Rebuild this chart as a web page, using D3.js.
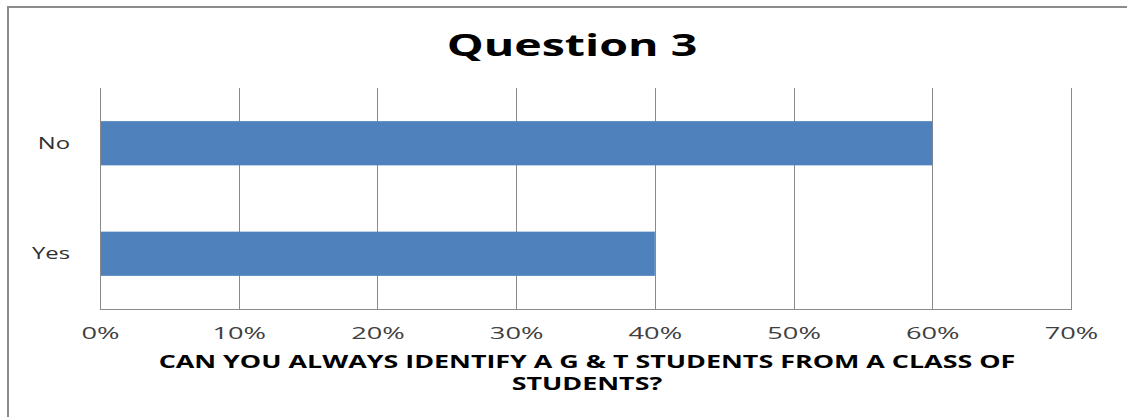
<!DOCTYPE html>
<html>
<head>
<meta charset="utf-8">
<script src="https://cdn.jsdelivr.net/npm/d3@7"></script>
<style>
  html, body { margin: 0; padding: 0; background: #fff; }
  svg { display: block; font-family: "Open Sans", "DejaVu Sans", sans-serif; }
</style>
</head>
<body>
<svg id="chart" width="1127" height="417"></svg>
<script>
// Survey answers for question 3 (share of respondents)
const categories = ["No", "Yes"];
const shares = [0.60, 0.40];
const tickValues = [0, 0.1, 0.2, 0.3, 0.4, 0.5, 0.6, 0.7];
const chartTitle = "Question 3";
const axisTitleLines = ["CAN YOU ALWAYS IDENTIFY A G & T STUDENTS FROM A CLASS OF", "STUDENTS?"];

const svg = d3.select("#chart");
const W = 1127, H = 417;
const plot = { left: 100, right: 1071, top: 88, bottom: 309 };

// Wide, stretched lettering: widen each text to a share of its natural width
function stretch(sel, factor) {
  sel.each(function() {
    const w = this.getComputedTextLength();
    d3.select(this).attr("textLength", w * factor).attr("lengthAdjust", "spacingAndGlyphs");
  });
}

// Outer chart frame (continues past the right and bottom edges)
svg.append("rect")
  .attr("x", 8).attr("y", 7)
  .attr("width", W + 20).attr("height", H + 20)
  .attr("fill", "#fff")
  .attr("stroke", "#8c8c8c").attr("stroke-width", 2);

const x = d3.scaleLinear().domain([0, 0.7]).range([plot.left, plot.right]);
const y = d3.scaleBand().domain(categories).range([plot.top, plot.bottom]).paddingInner(0.6).paddingOuter(0.3);

// Vertical gridlines
svg.append("g")
  .selectAll("line")
  .data(tickValues)
  .join("line")
  .attr("x1", d => Math.round(x(d)) + 0.5).attr("x2", d => Math.round(x(d)) + 0.5)
  .attr("y1", plot.top).attr("y2", plot.bottom)
  .attr("stroke", "#8a8a8a").attr("stroke-width", 1);

// Bottom axis line
svg.append("line")
  .attr("x1", plot.left).attr("x2", plot.right + 1)
  .attr("y1", plot.bottom + 0.5).attr("y2", plot.bottom + 0.5)
  .attr("stroke", "#8a8a8a").attr("stroke-width", 1);

// Bars
svg.append("g")
  .selectAll("rect")
  .data(categories)
  .join("rect")
  .attr("x", x(0) + 1)
  .attr("y", d => y(d))
  .attr("width", (d, i) => x(shares[i]) - x(0) - 1)
  .attr("height", y.bandwidth())
  .attr("fill", "#4f81bd");

// X axis tick labels
const xAxis = d3.axisBottom(x)
  .tickValues(tickValues)
  .tickFormat(d3.format(".0%"))
  .tickSize(0)
  .tickPadding(18);
const gx = svg.append("g").attr("transform", `translate(0,${plot.bottom})`).call(xAxis);
gx.select(".domain").remove();
gx.selectAll("text")
  .attr("font-family", "Open Sans, sans-serif")
  .attr("font-size", 17)
  .attr("fill", "#404040")
  .call(stretch, 1.6);

// Y axis category labels
const yAxis = d3.axisLeft(y).tickSize(0).tickPadding(30);
const gy = svg.append("g").attr("transform", `translate(${plot.left},0)`).call(yAxis);
gy.select(".domain").remove();
gy.selectAll("text")
  .attr("font-family", "Open Sans, sans-serif")
  .attr("font-size", 17)
  .attr("fill", "#303030")
  .call(stretch, 1.4);

// Left axis line
svg.append("line")
  .attr("x1", plot.left + 0.5).attr("x2", plot.left + 0.5)
  .attr("y1", plot.top).attr("y2", plot.bottom)
  .attr("stroke", "#8a8a8a").attr("stroke-width", 1);

// Title
svg.append("text")
  .attr("x", 572).attr("y", 56)
  .attr("text-anchor", "middle")
  .attr("font-family", "Open Sans, sans-serif")
  .attr("font-weight", "bold")
  .attr("font-size", 30)
  .attr("fill", "#000")
  .text(chartTitle)
  .call(stretch, 1.55);

// Axis title
svg.append("g").selectAll("text")
  .data(axisTitleLines)
  .join("text")
  .attr("x", 587)
  .attr("y", (d, i) => 368 + i * 22)
  .attr("text-anchor", "middle")
  .attr("font-family", "Open Sans, sans-serif")
  .attr("font-weight", "bold")
  .attr("font-size", 17)
  .attr("fill", "#000")
  .text(d => d)
  .call(stretch, 1.58);
</script>
</body>
</html>
